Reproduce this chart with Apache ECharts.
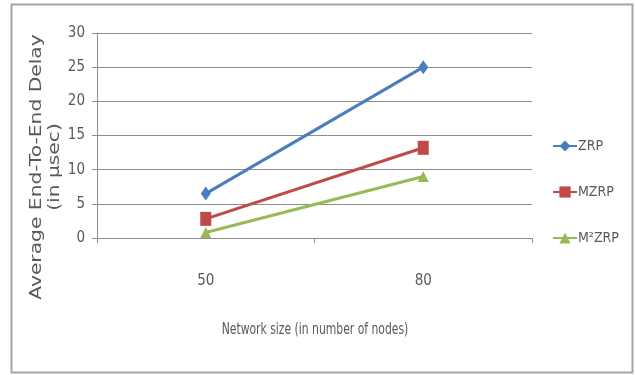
<!DOCTYPE html>
<html>
<head>
<meta charset="utf-8">
<script src="https://cdn.jsdelivr.net/npm/echarts@6/dist/echarts.min.js"></script>
<style>
  html, body { margin: 0; padding: 0; background: #fff; }
  #chart { width: 636px; height: 375px; }
</style>
</head>
<body>
<div id="chart"></div>
<script>
// Network sizes on the category axis
const networkSizes = ['50', '80'];
// Average end-to-end delay (µsec) per protocol
const zrp = [6.5, 25];
const mzrp = [2.8, 13.2];
const m2zrp = [0.8, 9];
const seriesNames = ['ZRP', 'MZRP', 'M\u00B2ZRP'];
const yTicks = { min: 0, max: 30, interval: 5 };

const narrow = '"DejaVu Sans Condensed", "Liberation Sans Narrow", sans-serif';
const gridGray = '#8e8e8e';
const textGray = '#595959';

const chart = echarts.init(document.getElementById('chart'));

function lineSeries(name, data, color, symbol, size) {
  return {
    name: name,
    type: 'line',
    data: data,
    symbol: symbol,
    symbolSize: size,
    lineStyle: { color: color, width: 3 },
    itemStyle: { color: color },
    z: 3
  };
}

chart.setOption({
  animation: false,
  backgroundColor: '#fff',
  grid: { left: 97, right: 104, top: 33, bottom: 137 },
  xAxis: {
    type: 'category',
    data: networkSizes,
    boundaryGap: true,
    axisLine: { lineStyle: { color: gridGray, width: 1 } },
    axisTick: { show: true, length: 5, lineStyle: { color: gridGray } },
    axisLabel: { margin: 36, fontFamily: narrow, fontSize: 15, color: textGray }
  },
  yAxis: {
    type: 'value',
    min: yTicks.min,
    max: yTicks.max,
    interval: yTicks.interval,
    axisLine: { show: true, lineStyle: { color: gridGray, width: 1 } },
    axisTick: { show: true, length: 5, lineStyle: { color: gridGray } },
    splitLine: { lineStyle: { color: gridGray, width: 1 } },
    axisLabel: { margin: 12, fontFamily: narrow, fontSize: 15, color: textGray }
  },
  legend: {
    orient: 'vertical',
    left: 547,
    top: 134,
    itemGap: 32,
    itemWidth: 24,
    itemHeight: 14,
    textStyle: { fontFamily: narrow, fontSize: 14, color: textGray, padding: [0, 0, 0, -4] },
    data: seriesNames
  },
  series: [
    lineSeries(seriesNames[0], zrp, '#4a7ebb', 'diamond', [10, 14]),
    lineSeries(seriesNames[1], mzrp, '#be4b48', 'rect', [11, 14]),
    lineSeries(seriesNames[2], m2zrp, '#98b954', 'triangle', [11, 11])
  ],
  graphic: [
    {
      type: 'rect',
      shape: { x: 11.5, y: 4.5, width: 621, height: 368 },
      style: { fill: 'none', stroke: '#a6a6a6', lineWidth: 2 },
      z: -1
    },
    {
      // x-axis title, horizontally condensed
      type: 'text',
      x: 315,
      y: 330,
      scaleX: 0.75,
      style: {
        text: 'Network size (in number of nodes)',
        font: '16px "DejaVu Sans Condensed", sans-serif',
        fill: textGray,
        align: 'center',
        verticalAlign: 'middle'
      }
    },
    {
      type: 'text',
      x: 37,
      y: 167,
      rotation: Math.PI / 2,
      scaleX: 1.35,
      style: {
        text: 'Average End-To-End Delay',
        font: '15px "DejaVu Sans", sans-serif',
        fill: textGray,
        align: 'center',
        verticalAlign: 'middle'
      }
    },
    {
      type: 'text',
      x: 55,
      y: 167,
      rotation: Math.PI / 2,
      scaleX: 1.35,
      style: {
        text: '(in \u00B5sec)',
        font: '15px "DejaVu Sans", sans-serif',
        fill: textGray,
        align: 'center',
        verticalAlign: 'middle'
      }
    }
  ]
});
</script>
</body>
</html>
